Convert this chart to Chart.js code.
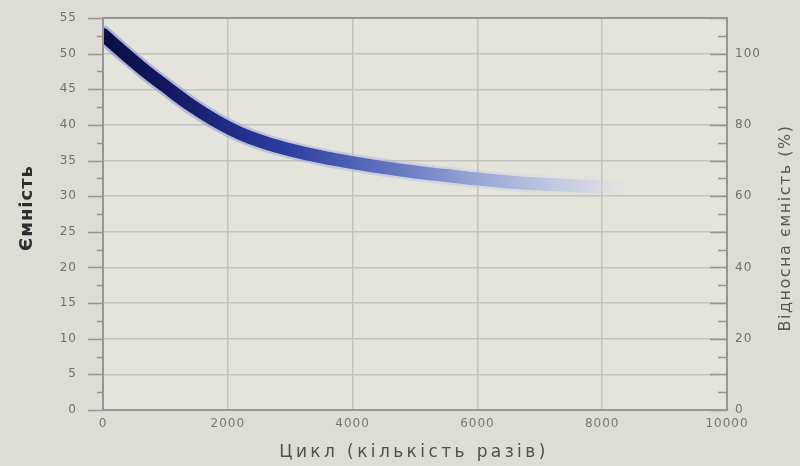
<!DOCTYPE html>
<html lang="uk">
<head>
<meta charset="utf-8">
<title>Ємність батареї за циклами</title>
<script src="https://cdn.jsdelivr.net/npm/chart.js@4/dist/chart.umd.min.js"></script>
<style>
  html, body { margin: 0; padding: 0; background: #dedcd4; }
  #wrap { width: 800px; height: 466px; position: relative; }
</style>
</head>
<body>
<div id="wrap"><canvas id="chart" width="800" height="466"></canvas></div>
<script>
// Capacity fade over charge/discharge cycles
const cycles   = [0, 150, 400, 700, 1000, 1400, 1800, 2200, 2600, 3000, 3500, 4000, 4500, 5000, 5500, 6000, 6500, 7000, 7500, 8000, 8400];
const capacity = [52.7, 51.5, 49.6, 47.4, 45.4, 42.8, 40.6, 38.8, 37.5, 36.5, 35.5, 34.7, 34.0, 33.4, 32.9, 32.4, 32.0, 31.7, 31.5, 31.3, 31.2];

const xTicks   = [0, 2000, 4000, 6000, 8000, 10000];
const yTicks   = [0, 5, 10, 15, 20, 25, 30, 35, 40, 45, 50, 55];
const pctTicks = [0, 20, 40, 60, 80, 100];

const xTitle   = 'Цикл (кількість разів)';
const yTitle   = 'Ємність';
const pctTitle = 'Відносна ємність (%)';

const FONT = "'DejaVu Sans', 'Liberation Sans', sans-serif";
const points = cycles.map((c, i) => ({ x: c, y: capacity[i] }));

// Horizontal colour ramp along the curve: dark navy fading to pale blue
function ramp(stops) {
  return (ctx) => {
    const chart = ctx.chart;
    if (!chart.chartArea) return '#1a237e';
    const sx = chart.scales.x;
    const x0 = sx.getPixelForValue(cycles[0]);
    const x1 = sx.getPixelForValue(cycles[cycles.length - 1]);
    const g = chart.ctx.createLinearGradient(x0, 0, x1, 0);
    stops.forEach(([p, col]) => g.addColorStop(p, col));
    return g;
  };
}

const coreStops = [
  [0.00, '#0c0d44'],
  [0.12, '#121760'],
  [0.24, '#202b85'],
  [0.36, '#3040a0'],
  [0.48, '#4f62b6'],
  [0.60, '#7283c5'],
  [0.71, '#98a5d5'],
  [0.83, '#b9c1e0'],
  [0.93, 'rgba(200,206,228,0.6)'],
  [1.00, 'rgba(214,217,228,0)']
];
const haloStops = [
  [0.00, 'rgba(120,135,210,0.55)'],
  [0.40, 'rgba(150,165,220,0.45)'],
  [0.75, 'rgba(190,198,226,0.35)'],
  [1.00, 'rgba(214,217,228,0)']
];

function drawText(ctx, text, x, y, rot, font, color, spacing) {
  ctx.save();
  ctx.translate(x, y);
  ctx.rotate(rot);
  ctx.font = font;
  ctx.fillStyle = color;
  ctx.letterSpacing = spacing;
  ctx.textAlign = 'center';
  ctx.textBaseline = 'middle';
  ctx.fillText(text, 0, 0);
  ctx.restore();
}

// Plot background, frame, tick marks and axis titles
const decor = {
  id: 'decor',
  beforeDraw(chart) {
    const { ctx, chartArea: a } = chart;
    ctx.letterSpacing = '1px';
    ctx.save();
    ctx.fillStyle = '#dedcd4';
    ctx.fillRect(0, 0, chart.width, chart.height);
    ctx.fillStyle = '#e4e3dc';
    ctx.fillRect(a.left, a.top, a.right - a.left, a.bottom - a.top);
    ctx.restore();
  },
  afterDraw(chart) {
    const { ctx, chartArea: a, scales } = chart;
    ctx.save();
    ctx.strokeStyle = '#96969a';
    ctx.lineWidth = 2;
    ctx.strokeRect(a.left, a.top, a.right - a.left, a.bottom - a.top);

    // left axis: long ticks every 5, short ticks in between, pointing outward
    ctx.lineWidth = 1.5;
    for (let v = 0; v <= 55; v += 2.5) {
      const y = Math.round(scales.y.getPixelForValue(v)) + 0.5;
      const len = (v % 5 === 0) ? 15 : 6;
      ctx.beginPath();
      ctx.moveTo(a.left - len, y);
      ctx.lineTo(a.left, y);
      ctx.stroke();
    }
    // right axis: long ticks every 10 %, short every 5 %, pointing inward
    for (let v = 0; v <= 110; v += 5) {
      const y = Math.round(scales.y1.getPixelForValue(v)) + 0.5;
      const len = (v % 10 === 0) ? 17 : 9;
      ctx.beginPath();
      ctx.moveTo(a.right - len, y);
      ctx.lineTo(a.right, y);
      ctx.stroke();
    }
    ctx.restore();

    drawText(ctx, yTitle, 27, 208, -Math.PI / 2, `bold 18px ${FONT}`, '#2e2e2e', '1px');
    drawText(ctx, pctTitle, 786, 228, -Math.PI / 2, `16px ${FONT}`, '#585858', '1.5px');
    drawText(ctx, xTitle, 414, 453, 0, `17px ${FONT}`, '#505050', '3.4px');
  }
};

new Chart(document.getElementById('chart'), {
  type: 'line',
  data: {
    datasets: [
      {
        data: points,
        yAxisID: 'y',
        borderColor: ramp(coreStops),
        borderWidth: 13,
        borderCapStyle: 'round',
        pointRadius: 0,
        fill: false,
        cubicInterpolationMode: 'monotone'
      },
      {
        data: points,
        yAxisID: 'y',
        borderColor: ramp(haloStops),
        borderWidth: 18,
        borderCapStyle: 'round',
        pointRadius: 0,
        fill: false,
        cubicInterpolationMode: 'monotone'
      }
    ]
  },
  options: {
    responsive: false,
    animation: false,
    events: [],
    layout: { padding: { top: 18, left: 0, right: 0, bottom: 0 } },
    plugins: { legend: { display: false }, tooltip: { enabled: false } },
    scales: {
      x: {
        type: 'linear',
        min: xTicks[0],
        max: xTicks[xTicks.length - 1],
        afterBuildTicks: (s) => { s.ticks = xTicks.map(v => ({ value: v })); },
        afterFit: (s) => { s.height = 56; s.paddingLeft = 0; s.paddingRight = 0; },
        border: { display: false },
        grid: { color: '#c5c3bc', lineWidth: 1.5, drawTicks: false },
        ticks: { color: '#777777', font: { family: FONT, size: 12 }, padding: 7, maxRotation: 0, autoSkip: false,
                 callback: (v) => String(v) }
      },
      y: {
        position: 'left',
        min: 0,
        max: 55,
        afterBuildTicks: (s) => { s.ticks = yTicks.map(v => ({ value: v })); },
        afterFit: (s) => { s.width = 103; s.paddingTop = 0; s.paddingBottom = 0; },
        border: { display: false },
        grid: { color: '#c5c3bc', lineWidth: 1.5, drawTicks: false },
        ticks: { color: '#707070', font: { family: FONT, size: 12 }, padding: 26, autoSkip: false }
      },
      y1: {
        position: 'right',
        min: 0,
        max: 110,
        afterBuildTicks: (s) => { s.ticks = pctTicks.map(v => ({ value: v })); },
        afterFit: (s) => { s.width = 73; s.paddingTop = 0; s.paddingBottom = 0; },
        border: { display: false },
        grid: { display: false, drawTicks: false },
        ticks: { color: '#707070', font: { family: FONT, size: 12 }, padding: 8, autoSkip: false }
      }
    }
  },
  plugins: [decor]
});
</script>
</body>
</html>
